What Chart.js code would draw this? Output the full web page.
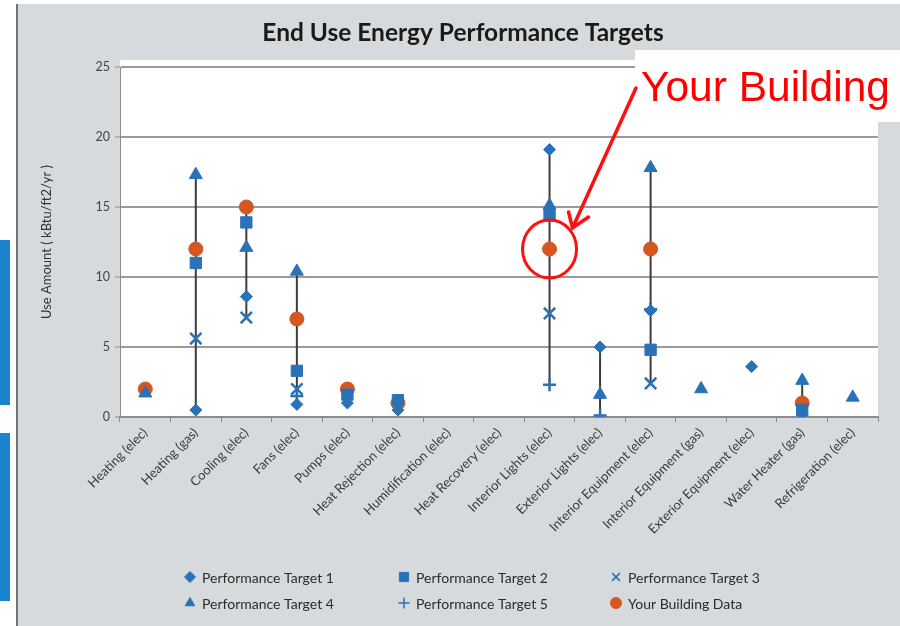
<!DOCTYPE html>
<html>
<head>
<meta charset="utf-8">
<title>End Use Energy Performance Targets</title>
<script src="https://cdn.jsdelivr.net/npm/chart.js@4.4.1/dist/chart.umd.min.js"></script>
<style>
    html, body { margin: 0; padding: 0; background: #ffffff; }
    #wrap { width: 900px; height: 626px; }
</style>
</head>
<body>
<div id="wrap"><canvas id="myChart" width="900" height="626"></canvas></div>
<script>
// categorias (eixo x)
const categorias = [
    'Heating (elec)', 'Heating (gas)', 'Cooling (elec)', 'Fans (elec)', 'Pumps (elec)',
    'Heat Rejection (elec)', 'Humidification (elec)', 'Heat Recovery (elec)', 'Interior Lights (elec)',
    'Exterior Lights (elec)', 'Interior Equipment (elec)', 'Interior Equipment (gas)',
    'Exterior Equipment (elec)', 'Water Heater (gas)', 'Refrigeration (elec)'
];

// valores (kBtu/ft2/yr)
const target1 = [null, 0.5, 8.6, 0.9, 1.0, 0.5, null, null, 19.1, 5.0, 7.6, null, 3.6, 0.2, null];
const target2 = [null, 11.0, 13.9, 3.3, 1.6, 1.2, null, null, 14.4, null, 4.8, null, null, 0.5, null];
const target3 = [null, 5.6, 7.1, 2.0, null, null, null, null, 7.4, null, 2.4, null, null, null, null];
const target4 = [1.7, 17.3, 12.1, 10.4, null, null, null, null, 15.1, 1.6, 17.8, 2.0, null, 2.6, 1.4];
const target5 = [null, null, null, 1.5, null, null, null, null, 2.3, 0.1, 7.7, null, null, null, null];
const seuPredio = [2.0, 12.0, 15.0, 7.0, 2.0, 1.0, null, null, 12.0, null, 12.0, null, null, 1.0, null];

const yTicks = [0, 5, 10, 15, 20, 25];

const azul = '#2a72b7';
const laranja = '#d5561f';
const fonte = 'Lato, "Open Sans", sans-serif';

function serie(nome, dados, estilo, raio, cor) {
    return {
        label: nome,
        data: dados,
        showLine: false,
        pointStyle: estilo,
        pointRadius: raio,
        pointHoverRadius: raio,
        backgroundColor: cor,
        borderColor: cor,
        pointBorderWidth: (estilo == 'crossRot' || estilo == 'cross') ? 2.5 : 1
    };
}

// fundo cinza + area do grafico branca
const fundoPlugin = {
    id: 'fundo',
    beforeDraw(chart) {
        var ctx = chart.ctx;
        var a = chart.chartArea;
        ctx.save();
        ctx.fillStyle = '#ffffff';
        ctx.fillRect(0, 0, chart.width, chart.height);
        ctx.fillStyle = '#d6dadd';
        ctx.fillRect(17, 4, chart.width - 17, chart.height - 4);
        ctx.fillStyle = '#6e7377';
        ctx.fillRect(16, 4, 2, chart.height - 4);
        // pedacos azuis da captura de tela a esquerda
        ctx.fillStyle = '#1b84cc';
        ctx.fillRect(0, 240, 10, 165);
        ctx.fillRect(0, 433, 10, 168);
        ctx.fillStyle = '#ffffff';
        ctx.fillRect(a.left, a.top - 7, a.right - a.left, a.bottom - a.top + 7);
        ctx.restore();
    }
};

// linhas max-min de cada categoria
const linhasPlugin = {
    id: 'linhas',
    beforeDatasetsDraw(chart) {
        var ctx = chart.ctx;
        var x = chart.scales.x, y = chart.scales.y;
        ctx.save();
        ctx.strokeStyle = '#3c3c3c';
        ctx.lineWidth = 2;
        categorias.forEach(function (c, i) {
            var vals = chart.data.datasets.map(d => d.data[i]).filter(v => v !== null);
            if (vals.length < 2) return;
            var min = Math.min(...vals), max = Math.max(...vals);
            if (max - min < 0.5) return;
            var px = x.getPixelForValue(i);
            ctx.beginPath();
            ctx.moveTo(px, y.getPixelForValue(min));
            ctx.lineTo(px, y.getPixelForValue(max));
            ctx.stroke();
        });
        ctx.restore();
    }
};

// titulo, legenda em 3 colunas e a anotacao em vermelho
const extrasPlugin = {
    id: 'extras',
    afterDraw(chart) {
        var ctx = chart.ctx;
        ctx.save();
        ctx.fillStyle = '#1a1a1a';
        ctx.font = 'bold 24.5px ' + fonte;
        ctx.textAlign = 'center';
        ctx.textBaseline = 'middle';
        ctx.fillText('End Use Energy Performance Targets', 463, 33);

        var colX = [190, 404, 616];
        var rowY = [577, 603];
        ctx.font = '14px ' + fonte;
        ctx.textAlign = 'left';
        chart.data.datasets.forEach(function (d, i) {
            var cx = colX[i % 3], cy = rowY[Math.floor(i / 3)];
            ctx.fillStyle = d.backgroundColor;
            ctx.strokeStyle = d.borderColor;
            ctx.lineWidth = d.pointBorderWidth > 1 ? 1.5 : 1;
            Chart.helpers.drawPoint(ctx, {
                pointStyle: d.pointStyle,
                radius: d.pointStyle == 'rect' ? 6.5 : 5.5,
                rotation: 0,
                borderWidth: ctx.lineWidth
            }, cx, cy);
            ctx.fillStyle = '#2b2b2b';
            ctx.fillText(d.label, cx + 12, cy + 1);
        });

        // caixa "Your Building"
        ctx.fillStyle = '#ffffff';
        ctx.fillRect(635, 50, 265, 72);
        ctx.fillStyle = '#ff0000';
        ctx.font = '42.5px "Liberation Sans", Arial, sans-serif';
        ctx.textBaseline = 'alphabetic';
        ctx.fillText('Your Building', 641, 101);

        var px = chart.scales.x.getPixelForValue(8);
        var py = chart.scales.y.getPixelForValue(seuPredio[8]);
        ctx.strokeStyle = '#ff1010';
        ctx.lineWidth = 3;
        ctx.beginPath();
        ctx.ellipse(px, py, 27, 29, 0, 0, Math.PI * 2);
        ctx.stroke();

        var tx = px + 23, ty = py - 21;
        ctx.lineWidth = 3.5;
        ctx.lineCap = 'round';
        ctx.beginPath();
        ctx.moveTo(636, 88);
        ctx.lineTo(tx, ty);
        ctx.stroke();
        ctx.beginPath();
        ctx.moveTo(tx - 4, ty - 16);
        ctx.lineTo(tx, ty);
        ctx.lineTo(tx + 16, ty - 11);
        ctx.stroke();
        ctx.restore();
    }
};

var ctx = document.getElementById('myChart').getContext('2d');
window.myChart = new Chart(ctx, {
    type: 'line',
    data: {
        labels: categorias,
        datasets: [
            serie('Performance Target 1', target1, 'rectRot', 6, azul),
            serie('Performance Target 2', target2, 'rect', 8, azul),
            serie('Performance Target 3', target3, 'crossRot', 8, azul),
            serie('Performance Target 4', target4, 'triangle', 7.5, azul),
            serie('Performance Target 5', target5, 'cross', 6.5, azul),
            serie('Your Building Data', seuPredio, 'circle', 7, laranja)
        ]
    },
    options: {
        responsive: false,
        animation: false,
        layout: { padding: { left: 20, right: 22, top: 67, bottom: 0 } },
        plugins: {
            legend: { display: false },
            title: { display: false },
            tooltip: { enabled: false }
        },
        scales: {
            x: {
                type: 'category',
                offset: true,
                afterFit: function (s) { s.height = 209; },
                grid: {
                    offset: true,
                    drawOnChartArea: false,
                    drawTicks: true,
                    tickLength: 5,
                    color: '#8c8c8c',
                    lineWidth: 1
                },
                border: { color: '#8c8c8c', width: 2 },
                ticks: {
                    autoSkip: false,
                    minRotation: 45,
                    maxRotation: 45,
                    color: '#3a3a3a',
                    font: { family: fonte, size: 13 }
                }
            },
            y: {
                min: 0,
                max: 25,
                afterFit: function (s) { s.width = 100; },
                afterBuildTicks: function (s) { s.ticks = yTicks.map(v => ({ value: v })); },
                grid: {
                    color: '#9a9a9a',
                    lineWidth: 2,
                    tickLength: 5,
                    tickColor: '#8c8c8c',
                    tickWidth: 1
                },
                border: { color: '#8c8c8c', width: 1 },
                ticks: {
                    color: '#444444',
                    padding: 5,
                    font: { family: fonte, size: 12.5 }
                },
                title: {
                    display: true,
                    text: 'Use Amount ( kBtu/ft2/yr )',
                    color: '#333333',
                    font: { family: fonte, size: 13 },
                    padding: { top: 19, bottom: 0 }
                }
            }
        }
    },
    plugins: [fundoPlugin, linhasPlugin, extrasPlugin]
});
</script>
</body>
</html>
